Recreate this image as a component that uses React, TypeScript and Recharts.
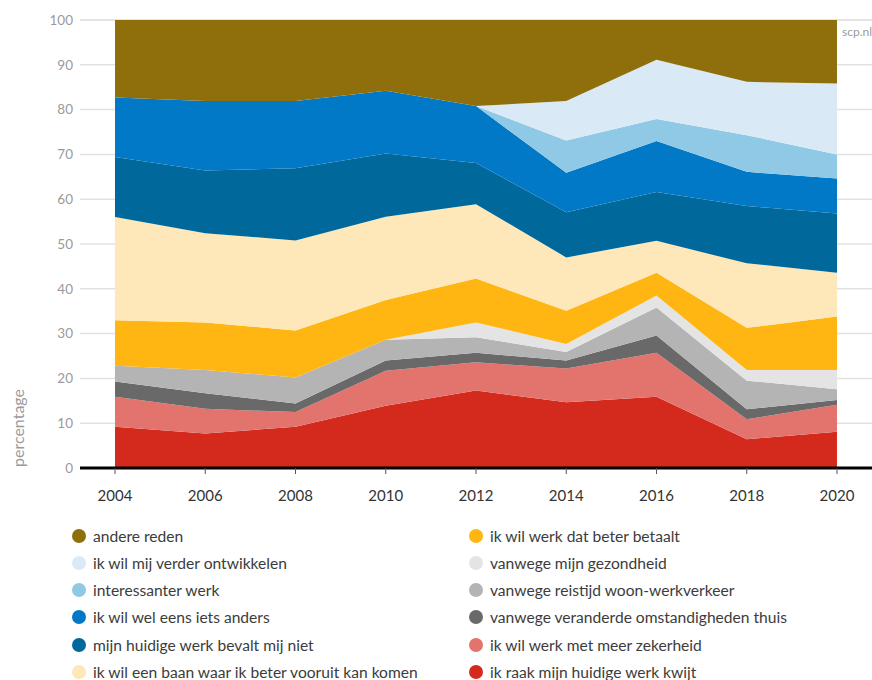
import React from 'react';
import { AreaChart, Area, XAxis, YAxis, CartesianGrid } from 'recharts';

const years = [2004, 2006, 2008, 2010, 2012, 2014, 2016, 2018, 2020];
const kwijt = [9.2, 7.7, 9.2, 13.9, 17.3, 14.7, 15.9, 6.4, 8.1];
const zekerheid = [6.7, 5.5, 3.3, 7.8, 6.3, 7.5, 9.8, 4.5, 6.0];
const thuis = [3.4, 3.5, 1.9, 2.3, 2.1, 1.8, 3.9, 2.2, 1.1];
const reistijd = [3.5, 5.2, 5.8, 4.6, 3.5, 1.9, 6.2, 6.4, 2.4];
const gezondheid = [0, 0, 0, 0, 3.3, 1.8, 2.7, 2.4, 4.3];
const betaalt = [10.2, 10.6, 10.5, 8.9, 9.8, 7.4, 5.1, 9.4, 11.9];
const vooruit = [23.0, 19.9, 20.1, 18.6, 16.6, 11.9, 7.1, 14.4, 9.8];
const bevaltNiet = [13.4, 14.0, 16.1, 14.1, 9.2, 10.1, 10.9, 12.8, 13.2];
const ietsAnders = [13.3, 15.5, 15.0, 14.0, 12.7, 8.8, 11.4, 7.6, 7.8];
const interessanter = [0, 0, 0, 0, 0, 7.2, 4.9, 8.2, 5.4];
const ontwikkelen = [0, 0, 0, 0, 0, 8.8, 13.2, 11.9, 15.8];
const andere = [17.3, 18.1, 18.1, 15.8, 19.2, 18.1, 8.9, 13.8, 14.2];

const yTicks = [0, 10, 20, 30, 40, 50, 60, 70, 80, 90, 100];

// bottom to top
const series = [
  { key: 'kwijt', name: 'ik raak mijn huidige werk kwijt', color: '#d42a1e', values: kwijt },
  { key: 'zekerheid', name: 'ik wil werk met meer zekerheid', color: '#e3746d', values: zekerheid },
  { key: 'thuis', name: 'vanwege veranderde omstandigheden thuis', color: '#696969', values: thuis },
  { key: 'reistijd', name: 'vanwege reistijd woon-werkverkeer', color: '#b4b4b4', values: reistijd },
  { key: 'gezondheid', name: 'vanwege mijn gezondheid', color: '#e4e4e4', values: gezondheid },
  { key: 'betaalt', name: 'ik wil werk dat beter betaalt', color: '#ffb612', values: betaalt },
  { key: 'vooruit', name: 'ik wil een baan waar ik beter vooruit kan komen', color: '#fee7b8', values: vooruit },
  { key: 'bevaltNiet', name: 'mijn huidige werk bevalt mij niet', color: '#01689b', values: bevaltNiet },
  { key: 'ietsAnders', name: 'ik wil wel eens iets anders', color: '#0179c6', values: ietsAnders },
  { key: 'interessanter', name: 'interessanter werk', color: '#8fc9e6', values: interessanter },
  { key: 'ontwikkelen', name: 'ik wil mij verder ontwikkelen', color: '#d9eaf6', values: ontwikkelen },
  { key: 'andere', name: 'andere reden', color: '#8f6f0c', values: andere },
];

const data = years.map((y, i) => {
  const row: any = { year: y };
  series.forEach((s) => (row[s.key] = s.values[i]));
  return row;
});

const leftLegend = ['andere', 'ontwikkelen', 'interessanter', 'ietsAnders', 'bevaltNiet', 'vooruit'];
const rightLegend = ['betaalt', 'gezondheid', 'reistijd', 'thuis', 'zekerheid', 'kwijt'];

const FONT = 'Lato, "Open Sans", sans-serif';

function LegendItem({ k, x, row }: { k: string; x: number; row: number }) {
  const s = series.find((q) => q.key === k)!;
  const cy = 535.5 + row * 27.3;
  return (
    <div style={{ position: 'absolute', left: x - 7, top: cy - 12, height: 24, display: 'flex', alignItems: 'center', whiteSpace: 'nowrap' }}>
      <span style={{ width: 14, height: 14, borderRadius: 7, background: s.color, display: 'inline-block', marginRight: 7 }} />
      <span style={{ fontFamily: FONT, fontSize: 15.6, color: '#3c3c3c' }}>{s.name}</span>
    </div>
  );
}

export default function App() {
  return (
    <div style={{ position: 'absolute', left: 0, top: 0, width: 872, height: 680, background: '#fff', overflow: 'hidden' }}>
      <AreaChart width={872} height={510} data={data} margin={{ top: 20, right: 0, bottom: 0, left: 0 }}>
        <CartesianGrid horizontal vertical={false} stroke="#e2e2e2" strokeWidth={1.5} />
        <XAxis
          dataKey="year"
          type="number"
          domain={[2003.224, 2020.776]}
          ticks={years}
          allowDataOverflow
          height={42}
          axisLine={{ stroke: '#000', strokeWidth: 3 }}
          tickLine={{ stroke: '#555', strokeWidth: 1 }}
          tickSize={6}
          tickMargin={16}
          tick={{ fill: '#333', fontSize: 15, fontFamily: FONT }}
        />
        <YAxis
          type="number"
          domain={[0, 100]}
          ticks={yTicks}
          width={80}
          axisLine={false}
          tickLine={false}
          tickSize={0}
          tickMargin={7}
          tick={{ fill: '#9a9a9a', fontSize: 13.5, fontFamily: FONT }}
          label={{
            content: () => (
              <text x={17} y={428} transform="rotate(-90 17 428)" textAnchor="middle" dominantBaseline="central" fill="#9a9a9a" fontSize={16} fontFamily={FONT}>
                percentage
              </text>
            ),
          }}
        />
        {series.map((s) => (
          <Area
            key={s.key}
            type="linear"
            dataKey={s.key}
            name={s.name}
            stackId="1"
            fill={s.color}
            fillOpacity={1}
            stroke="none"
            isAnimationActive={false}
          />
        ))}
      </AreaChart>
      <div style={{ position: 'absolute', left: 842, top: 24, fontFamily: FONT, fontSize: 12, color: '#9a9a9a' }}>scp.nl</div>
      {leftLegend.map((k, i) => (
        <LegendItem key={k} k={k} x={79} row={i} />
      ))}
      {rightLegend.map((k, i) => (
        <LegendItem key={k} k={k} x={476} row={i} />
      ))}
    </div>
  );
}
